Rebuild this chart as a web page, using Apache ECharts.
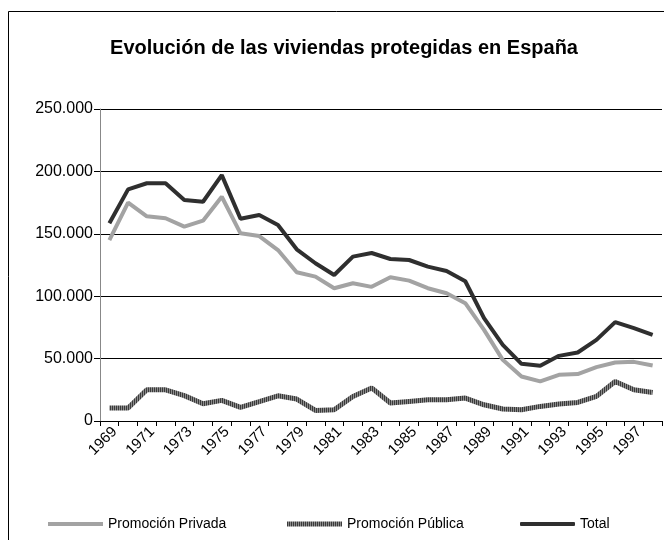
<!DOCTYPE html>
<html>
<head>
<meta charset="utf-8">
<script src="https://cdn.jsdelivr.net/npm/echarts@6/dist/echarts.min.js"></script>
<style>
html, body { margin: 0; padding: 0; background: #fff; }
#chart { width: 664px; height: 540px; }
</style>
</head>
<body>
<div id="chart"></div>
<script>
// años 1969 - 1998
var years = ['1969','1970','1971','1972','1973','1974','1975','1976','1977','1978',
	'1979','1980','1981','1982','1983','1984','1985','1986','1987','1988',
	'1989','1990','1991','1992','1993','1994','1995','1996','1997','1998'];

var privada = [145000, 175000, 164000, 162500, 155700, 160500, 179700, 150400, 148200, 137000,
	119200, 115700, 106400, 110400, 107500, 115200, 112500, 106400, 102400, 94400,
	73000, 49000, 35700, 31700, 37000, 37600, 43200, 46900, 47400, 44500];

var publica = [10400, 10400, 25000, 25000, 20300, 13800, 16500, 10900, 15500, 20200,
	17600, 8500, 9000, 19700, 26500, 14400, 15700, 17000, 17000, 18400,
	13000, 9600, 9000, 11700, 13600, 14900, 19700, 31700, 25000, 22900];

var total = [158400, 185600, 190500, 190500, 177000, 175700, 197000, 162100, 165000, 157000,
	137600, 126400, 117000, 131700, 134600, 129800, 129000, 123700, 120200, 112000,
	82400, 61000, 45800, 44200, 52200, 54900, 65000, 79200, 74400, 69000];

var yTicks = [0, 50000, 100000, 150000, 200000, 250000];

// trama rayada para la promocion publica
var pat = document.createElement('canvas');
pat.width = 2;
pat.height = 2;
var pctx = pat.getContext('2d');
pctx.fillStyle = '#8c8c8c';
pctx.fillRect(0, 0, 2, 2);
pctx.fillStyle = '#3a3a3a';
pctx.fillRect(0, 0, 1, 2);
var striped = { image: pat, repeat: 'repeat' };

var myChart = echarts.init(document.getElementById('chart'));

function fmtMiles(v) {
	return String(v).replace(/\B(?=(\d{3})+(?!\d))/g, '.');
}

var legendText = { fontFamily: 'Liberation Sans', fontSize: 14, color: '#000' };

var option = {
	animation: false,
	textStyle: { fontFamily: 'Liberation Sans' },
	title: {
		text: 'Evolución de las viviendas protegidas en España',
		left: 339,
		textAlign: 'center',
		top: 33,
		textStyle: { fontFamily: 'Liberation Sans', fontSize: 20, fontWeight: 'bold', color: '#000' }
	},
	graphic: [{
		type: 'rect',
		silent: true,
		shape: { x: 8.5, y: 11.5, width: 700, height: 600 },
		style: { fill: 'none', stroke: '#000', lineWidth: 1 }
	}],
	legend: [
		{ data: ['Promoción Privada'], left: 48, top: 517, padding: 0, icon: 'rect', itemWidth: 55, itemHeight: 4, itemGap: 0, textStyle: legendText },
		{ data: ['Promoción Pública'], left: 287, top: 517, padding: 0, icon: 'rect', itemWidth: 55, itemHeight: 5, itemGap: 0, textStyle: legendText },
		{ data: ['Total'], left: 520, top: 517, padding: 0, icon: 'roundRect', itemWidth: 55, itemHeight: 4, itemGap: 0, textStyle: legendText }
	],
	grid: { left: 100, right: 2, top: 109, bottom: 119 },
	xAxis: {
		type: 'category',
		data: years,
		boundaryGap: true,
		axisLine: { lineStyle: { color: '#000', width: 1 } },
		axisTick: { show: true, interval: 0, length: 5, lineStyle: { color: '#000' } },
		axisLabel: { interval: 1, rotate: 45, fontSize: 15, color: '#000', margin: 3, verticalAlign: 'top' },
		splitLine: { show: false }
	},
	yAxis: {
		type: 'value',
		min: yTicks[0],
		max: yTicks[yTicks.length - 1],
		interval: 50000,
		axisLine: { show: true, lineStyle: { color: '#888', width: 1 } },
		axisTick: { show: true, length: 6, lineStyle: { color: '#000' } },
		axisLabel: { fontSize: 16, color: '#000', margin: 7, formatter: fmtMiles },
		splitLine: { lineStyle: { color: '#000', width: 1 } }
	},
	series: [{
		name: 'Promoción Privada',
		type: 'line',
		data: privada,
		showSymbol: false,
		symbol: 'none',
		color: '#a3a3a3',
		lineStyle: { color: '#a3a3a3', width: 4 },
		z: 3
	}, {
		name: 'Promoción Pública',
		type: 'line',
		data: publica,
		showSymbol: false,
		symbol: 'none',
		color: striped,
		lineStyle: { color: striped, width: 5 },
		z: 2
	}, {
		name: 'Total',
		type: 'line',
		data: total,
		showSymbol: false,
		symbol: 'none',
		color: '#2f2f2f',
		lineStyle: { color: '#2f2f2f', width: 4 },
		z: 4
	}]
};

myChart.setOption(option);
</script>
</body>
</html>
